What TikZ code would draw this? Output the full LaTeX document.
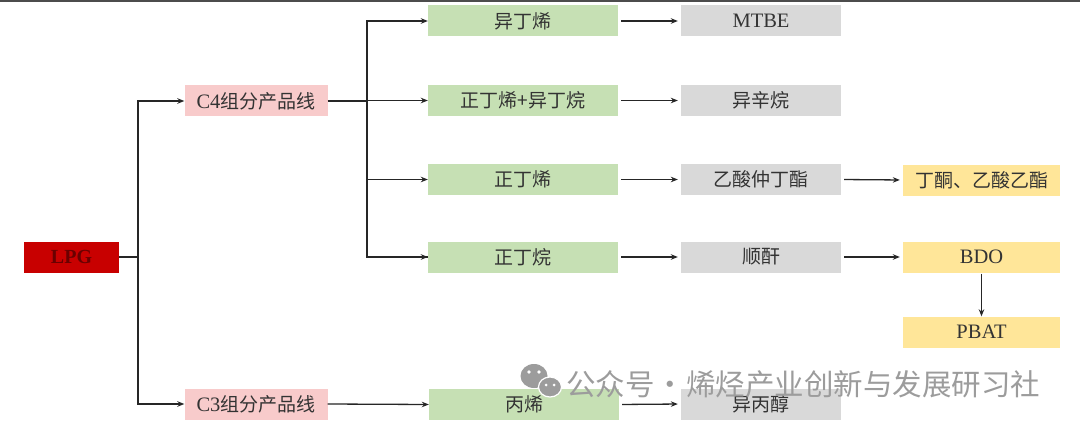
\documentclass[tikz,border=0pt]{standalone}
\usepackage{fontspec}
\setmainfont{Liberation Serif}
\newfontfamily\cjk{Noto Sans CJK SC}
\usetikzlibrary{arrows.meta}
\definecolor{lpgred}{HTML}{C80000}
\definecolor{lpgtxt}{HTML}{6A0000}
\definecolor{pinkbox}{HTML}{F8CBCB}
\definecolor{greenbox}{HTML}{C6E0B4}
\definecolor{graybox}{HTML}{D9D9D9}
\definecolor{yellowbox}{HTML}{FFE699}
\definecolor{txt}{HTML}{333333}
\definecolor{wm}{HTML}{9C9C9C}
\newcommand{\zh}{\cjk\fontsize{19}{21}\selectfont}
\tikzset{
  box/.style={minimum height=31pt, inner sep=0pt, text=txt, font=\fontsize{20.5}{22}\selectfont},
  lpgbox/.style={box, fill=lpgred, minimum width=95pt, text=lpgtxt, font=\fontsize{20}{22}\selectfont\bfseries},
  cbox/.style={box, fill=pinkbox, minimum width=143pt},
  gbox/.style={box, fill=greenbox, minimum width=190pt},
  grbox/.style={box, fill=graybox, minimum width=160pt},
  ybox/.style={box, fill=yellowbox, minimum width=157pt},
  conn/.style={line width=1.3pt, draw=black!85},
  arr/.style={conn, -{Stealth[length=7pt,width=5.5pt]}},
}
\begin{document}
\begin{tikzpicture}[x=1pt,y=-1pt]
\useasboundingbox (0,0) rectangle (1080,428);
\fill[white] (0,0) rectangle (1080,428);
\draw[line width=1.6pt, draw=black!70] (0,0.8) -- (1080,0.8);

\node[lpgbox] (lpg) at (71.5,257) {LPG};
\node[cbox] (c4) at (256,101) {C4{\zh 组分产品线}};
\node[cbox] (c3) at (256,404) {C3{\zh 组分产品线}};

\node[gbox] (g1) at (523,21) {\zh 异丁烯};
\node[gbox] (g2) at (523,100.5) {\zh 正丁烯+异丁烷};
\node[gbox] (g3) at (523,179.5) {\zh 正丁烯};
\node[gbox] (g4) at (523,257) {\zh 正丁烷};
\node[gbox] (g5) at (524,404.5) {\zh 丙烯};

\node[grbox] (r1) at (761,21) {MTBE};
\node[grbox] (r2) at (761,100.5) {\zh 异辛烷};
\node[grbox] (r3) at (761,179.5) {\zh 乙酸仲丁酯};
\node[grbox] (r4) at (761,257) {\zh 顺酐};
\node[grbox] (r5) at (761,404) {\zh 异丙醇};

\node[ybox] (y1) at (981.5,180) {\zh 丁酮、乙酸乙酯};
\node[ybox] (y2) at (981.5,257) {BDO};
\node[ybox] (y3) at (981.5,332) {PBAT};

\coordinate (j1) at (138,257);
\coordinate (j2) at (367,101);

\draw[conn] (lpg.east) -- (j1);
\draw[arr] (j1) |- (c4.west);
\draw[arr] (j1) |- (c3.west);

\draw[conn] (c4.east) -- (j2);
\draw[conn] (j2) |- (g4.west);
\draw[arr] (j2) |- (g1.west);
\draw[arr] (j2) |- (g2.west);
\draw[arr] (j2) |- (g3.west);
\draw[arr] (j2 |- g4) -- (g4.west);

\draw[arr] (c3.east) -- (g5.west);

\draw[arr, shorten <=3pt, shorten >=3pt] (g1.east) -- (r1.west);
\draw[arr, shorten <=3pt, shorten >=3pt] (g2.east) -- (r2.west);
\draw[arr, shorten <=3pt, shorten >=3pt] (g3.east) -- (r3.west);
\draw[arr, shorten <=3pt, shorten >=3pt] (g4.east) -- (r4.west);
\draw[arr, shorten <=3pt, shorten >=3pt] (g5.east) -- (r5.west);

\draw[arr, shorten <=3pt, shorten >=3pt] (r3.east) -- (y1.west);
\draw[arr, shorten <=3pt, shorten >=3pt] (r4.east) -- (y2.west);
\draw[arr, shorten <=1pt] (y2.south) -- (y3.north);

% watermark
\fill[wm] (534,376) ellipse (13.5pt and 12pt);
\fill[wm, draw=white, line width=1.2pt] (550,387) ellipse (11.5pt and 10pt);
\fill[white] (529,372) circle (1.8pt) (539,372) circle (1.8pt);
\fill[white] (546,385) circle (1.5pt) (554,385) circle (1.5pt);
\node[anchor=west, inner sep=0pt, text=wm, font=\cjk\fontsize{29.5}{31}\selectfont] (wmtext) at (566,384) {公众号\hspace{1pt}·\hspace{1pt}烯烃产业创新与发展研习社};
\end{tikzpicture}
\end{document}
